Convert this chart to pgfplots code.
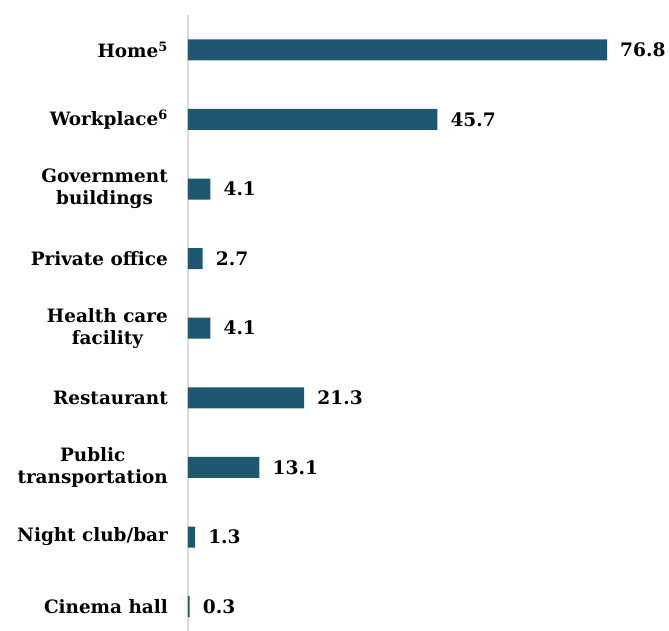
\documentclass[border=0pt]{standalone}
\usepackage{pgfplots}
\pgfplotsset{compat=1.18}
\usepackage{fontspec}
\setmainfont{DejaVu Serif}
\definecolor{barc}{RGB}{31,87,112}
\definecolor{axc}{RGB}{217,217,217}
\begin{document}
\begin{tikzpicture}[x=1pt,y=1pt]
\useasboundingbox (-188,0) rectangle (481,631);
\begin{axis}[
  at={(0,0)}, anchor=south west,
  scale only axis, width=436.5pt, height=616pt,
  xbar, bar width=21pt,
  xmin=0, xmax=80,
  ymin=-0.5, ymax=8.35, y dir=reverse,
  axis x line=none,
  axis y line*=left,
  y axis line style={draw=axc, line width=2.5pt, -},
  ytick={0,...,8},
  major tick length=0pt,
  yticklabels={{Home\textsuperscript{5}},{Workplace\textsuperscript{6}},{Government\\buildings},{Private office},{Health care\\facility},{Restaurant},{Public\\transportation},{Night club/bar},{Cinema hall}},
  yticklabel style={align=center, font=\fontsize{18.4}{22}\selectfont\bfseries, inner xsep=0pt, xshift=-20pt},
  nodes near coords,
  nodes near coords style={font=\fontsize{18.6}{22}\selectfont\bfseries, anchor=west, inner xsep=0pt, xshift=13pt},
  point meta=explicit symbolic,
]
\addplot[fill=barc, draw=none] coordinates {
(76.8,0) [76.8]
(45.7,1) [45.7]
(4.1,2) [4.1]
(2.7,3) [2.7]
(4.1,4) [4.1]
(21.3,5) [21.3]
(13.1,6) [13.1]
(1.3,7) [1.3]
(0.3,8) [0.3]
};
\end{axis}
\end{tikzpicture}
\end{document}
